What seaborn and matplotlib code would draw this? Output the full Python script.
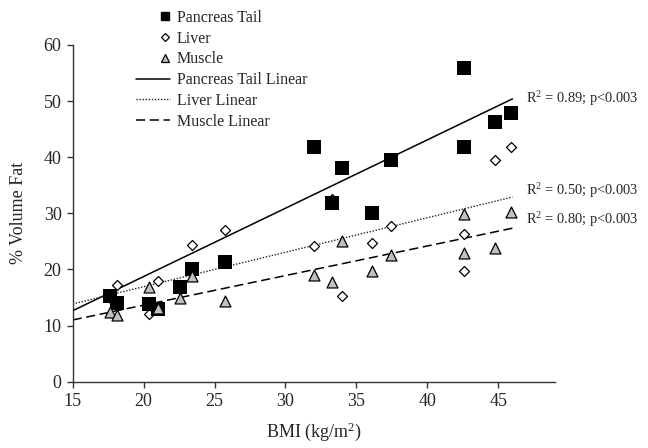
import numpy as np
import pandas as pd
import matplotlib
matplotlib.use("Agg")
import matplotlib.pyplot as plt
from matplotlib.lines import Line2D
from matplotlib.legend_handler import HandlerLine2D
import seaborn as sns

# ---- data ----
bmi = [17.65, 18.12, 20.35, 21.0, 22.55, 23.4, 25.75, 32.0, 33.25, 33.97,
       36.1, 37.42, 42.6, 42.6, 44.8, 45.87]
pancreas_tail = [15.3, 14.0, 13.8, 12.9, 16.8, 20.1, 21.3, 41.9, 31.9, 38.0,
                 30.0, 39.5, 41.9, 55.9, 46.3, 47.8]
liver = [15.0, 17.2, 12.0, 17.9, 16.5, 24.4, 27.0, 24.1, 32.6, 15.3,
         24.8, 27.8, 26.3, 19.7, 39.5, 41.9]
muscle = [12.5, 11.9, 16.8, 13.2, 14.9, 18.8, 14.4, 19.1, 17.8, 25.1,
          19.8, 22.6, 29.8, 22.9, 23.9, 30.2]

# linear trend lines as drawn in the reference (start / end values)
trend_x = [15, 46]
pancreas_trend = [12.65, 50.4]
liver_trend = [13.85, 32.9]
muscle_trend = [11.0, 27.35]

annotations = ["R$^2$ = 0.89; p<0.003", "R$^2$ = 0.50; p<0.003", "R$^2$ = 0.80; p<0.003"]
annot_y = [50.4, 34.0, 28.9]

x_ticks = [15, 20, 25, 30, 35, 40, 45]
y_ticks = [0, 10, 20, 30, 40, 50, 60]

sns.set_style("ticks")
plt.rcParams["font.family"] = ["Liberation Serif", "DejaVu Serif"]
plt.rcParams["mathtext.fontset"] = "custom"
plt.rcParams["mathtext.rm"] = "Liberation Serif"
plt.rcParams["mathtext.it"] = "Liberation Serif:italic"

fig = plt.figure(figsize=(6.48, 4.48), dpi=100)
ax = fig.add_axes([0.1122, 0.148, 0.7443, 0.7516])

df = pd.DataFrame({"bmi": bmi, "pancreas": pancreas_tail, "liver": liver, "muscle": muscle})
tdf = pd.DataFrame({"x": trend_x, "p": pancreas_trend, "l": liver_trend, "m": muscle_trend})

sns.lineplot(data=tdf, x="x", y="p", ax=ax, color="black", lw=1.1, zorder=2)
sns.lineplot(data=tdf, x="x", y="l", ax=ax, color="#222222", lw=1.0, linestyle=(0, (1, 1.2)), zorder=2)
sns.lineplot(data=tdf, x="x", y="m", ax=ax, color="black", lw=1.1, linestyle=(0, (6, 3)), zorder=2)

sns.scatterplot(data=df, x="bmi", y="liver", ax=ax, marker="D", s=26, color="white",
                edgecolor="black", linewidth=0.9, zorder=3)
sns.scatterplot(data=df, x="bmi", y="pancreas", ax=ax, marker="s", s=88, color="black",
                edgecolor="black", linewidth=0, zorder=4)
sns.scatterplot(data=df, x="bmi", y="muscle", ax=ax, marker="^", s=62, color="#c0c0c0",
                edgecolor="black", linewidth=0.9, zorder=5)

ax.set_xlim(15, 49)
ax.set_ylim(0, 60)
ax.set_xticks(x_ticks)
ax.set_yticks(y_ticks)
ax.tick_params(labelsize=13, length=4, width=1, color="#333333", pad=4)
for s in ["top", "right"]:
    ax.spines[s].set_visible(False)
for s in ["left", "bottom"]:
    ax.spines[s].set_color("#333333")
    ax.spines[s].set_linewidth(1.0)

ax.set_xlabel("BMI (kg/m$^2$)", fontsize=13, labelpad=8)
ax.set_ylabel("% Volume Fat", fontsize=13, labelpad=12)

for txt, yv in zip(annotations, annot_y):
    ax.text(46.95, yv, txt, fontsize=10.4, va="center", ha="left", clip_on=False)


class MarkerRight(HandlerLine2D):
    def get_xdata(self, legend, xdescent, ydescent, width, height, fontsize):
        m = -xdescent + width - 0.3 * fontsize
        return [m - 1, m + 1], [m]


handles = [
    Line2D([], [], ls="none", marker="s", ms=5.2, mfc="black", mec="black"),
    Line2D([], [], ls="none", marker="D", ms=3.8, mfc="white", mec="black", mew=0.9),
    Line2D([], [], ls="none", marker="^", ms=6, mfc="#c0c0c0", mec="black", mew=0.9),
    Line2D([], [], color="black", lw=1.1),
    Line2D([], [], color="#222222", lw=1.0, ls=(0, (1, 1.2))),
    Line2D([], [], color="black", lw=1.1, ls=(0, (6, 3))),
]
labels = ["Pancreas Tail", "Liver", "Muscle", "Pancreas Tail Linear", "Liver Linear", "Muscle Linear"]
hmap = {h: MarkerRight() for h in handles[:3]}
fig.legend(handles, labels, loc="upper left", bbox_to_anchor=(0.21, 0.978),
           frameon=False, fontsize=11.5, handlelength=2.1, handletextpad=0.45,
           labelspacing=0.3, borderpad=0, borderaxespad=0, handler_map=hmap)

fig.savefig("out.png", dpi=100)
